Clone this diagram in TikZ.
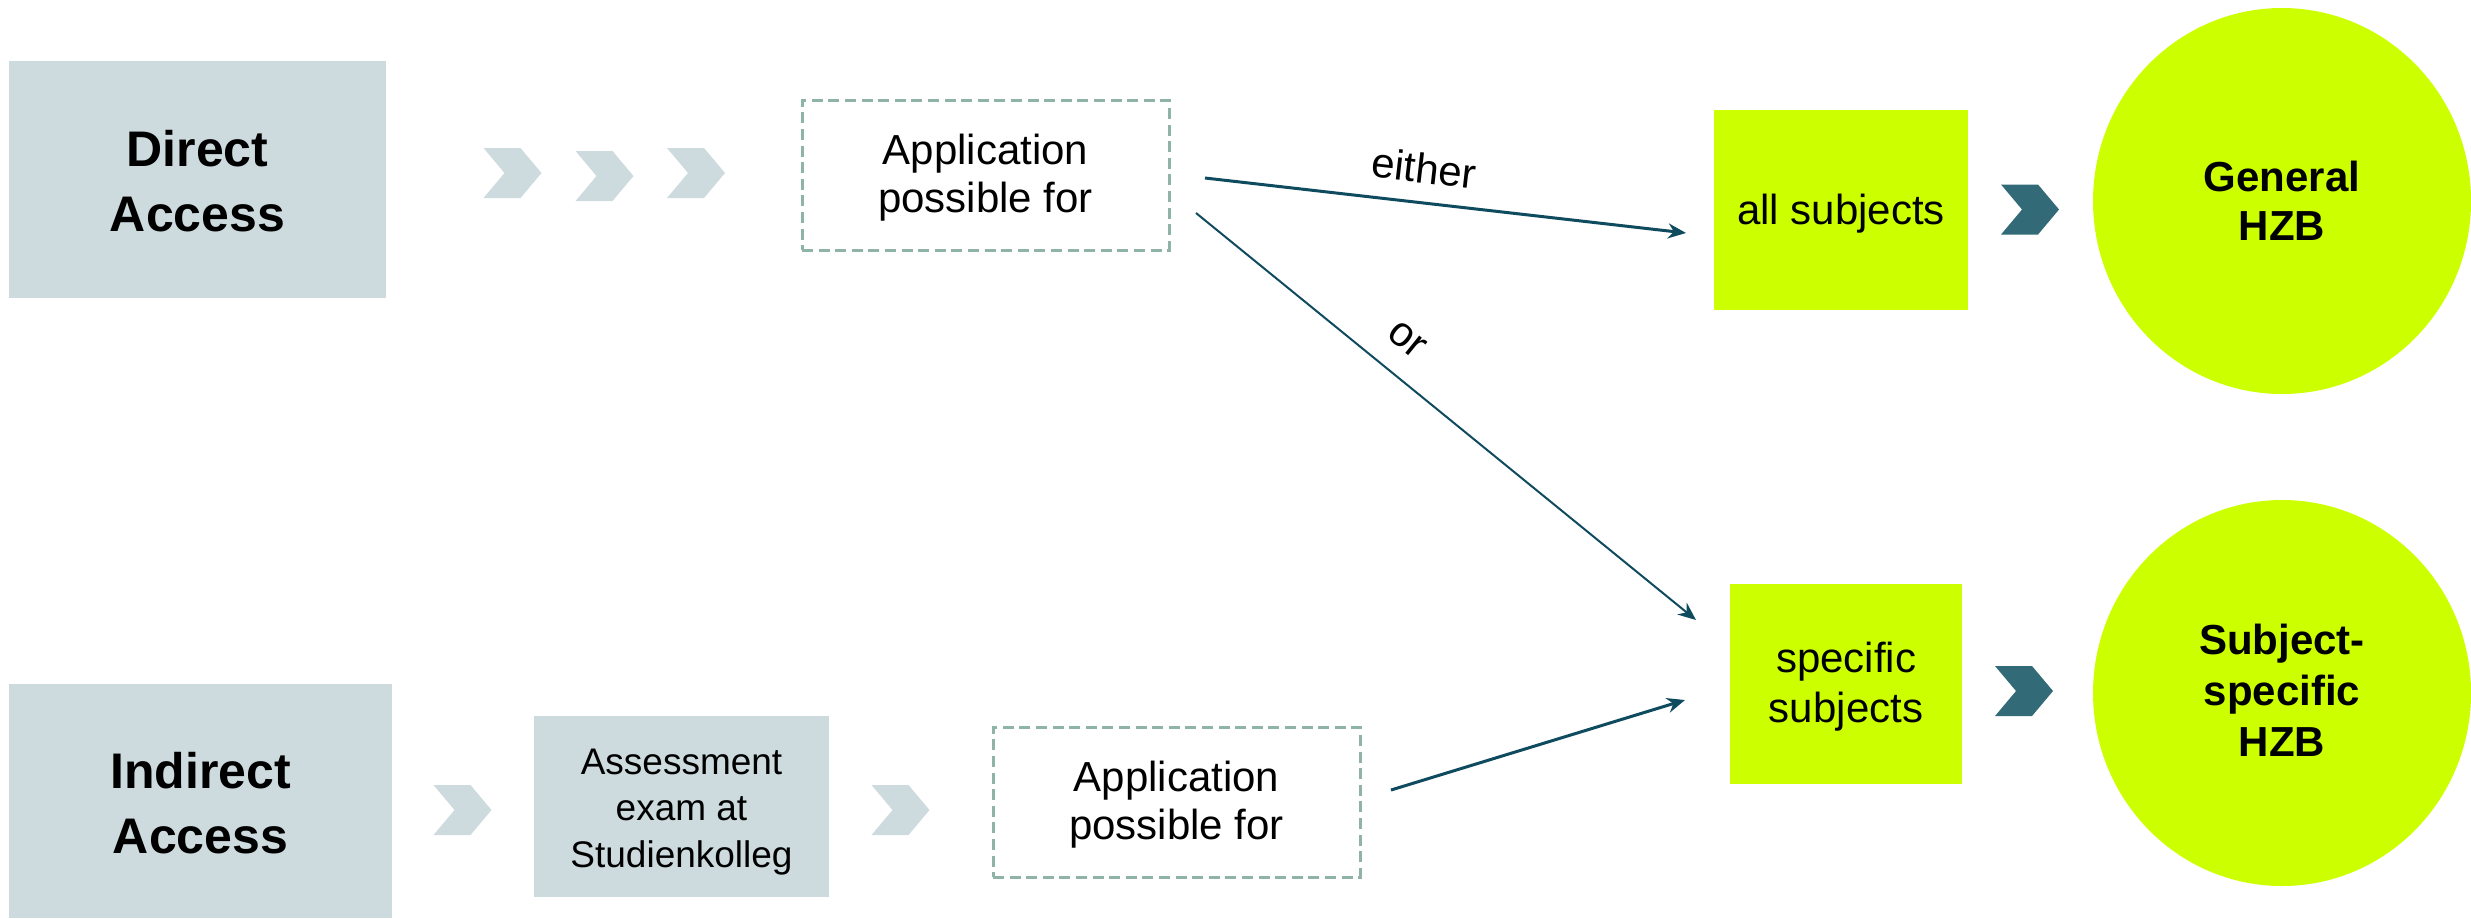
\documentclass[tikz,border=0pt]{standalone}
\usepackage{fontspec}
\setmainfont{Liberation Sans}
\usetikzlibrary{shapes.geometric,arrows.meta}
\definecolor{boxgrey}{RGB}{205,219,222}
\definecolor{chevlight}{RGB}{205,219,222}
\definecolor{dashgreen}{RGB}{143,179,165}
\definecolor{lime}{RGB}{204,255,0}
\definecolor{chevdark}{RGB}{51,106,119}
\definecolor{arrowc}{RGB}{15,75,94}
\newcommand{\tstrut}[1]{\rule{0pt}{#1}}
\newcommand{\bstrut}[1]{\rule[-#1]{0pt}{0pt}}
\begin{document}
\begin{tikzpicture}[x=0.5pt,y=-0.5pt,
  greybox/.style={fill=boxgrey, inner sep=0pt, align=center},
  bigtext/.style={font=\bfseries\fontsize{25pt}{32.5pt}\selectfont},
  dashbox/.style={draw=dashgreen, line width=1.5pt, dash pattern=on 5.5pt off 2.8pt, fill=white,
    minimum width=183.5pt, minimum height=75pt, inner sep=0pt, align=center,
    font=\fontsize{21pt}{24pt}\selectfont},
  limebox/.style={fill=lime, inner sep=0pt, align=center, font=\fontsize{21pt}{25pt}\selectfont},
  hzb/.style={ellipse, fill=lime, minimum width=189pt, minimum height=193pt, inner sep=0pt,
    align=center, font=\bfseries\fontsize{21pt}{24.5pt}\selectfont},
  conn/.style={draw=arrowc, line width=1.5pt, -{Stealth[length=9pt,width=7.5pt]}},
  lbl/.style={font=\fontsize{21pt}{24pt}\selectfont, inner sep=0pt},
  chev/.pic={\path[pic actions] (-29,-25) -- (8,-25) -- (29,0) -- (8,25) -- (-29,25) -- (-8,0) -- cycle;}
]
\useasboundingbox (0,0) rectangle (2471,918);
\begin{scope}
\clip (0,0) rectangle (2471,918);
% top row
\node[greybox, bigtext, minimum width=188.5pt, minimum height=118.5pt] (direct) at (197.5,179.5) {\tstrut{20pt}Direct\\Access};
\pic[fill=chevlight] (c1) at (512.5,173) {chev};
\pic[fill=chevlight] (c2) at (604.5,176) {chev};
\pic[fill=chevlight] (c3) at (696,173) {chev};
\node[dashbox] (app1) at (985.5,175) {\tstrut{18.3pt}Application\\possible for};
\node[limebox, minimum width=127pt, minimum height=100pt] (all) at (1841,210) {\tstrut{19.3pt}all subjects};
\pic[fill=chevdark] (d1) at (2030,209.5) {chev};
\node[hzb] (gen) at (2282,201) {General\\HZB};
% bottom row
\node[greybox, bigtext, minimum width=191.5pt, minimum height=117pt] (indirect) at (200.5,801) {\tstrut{20.3pt}Indirect\\Access};
\pic[fill=chevlight] (c4) at (462.5,810) {chev};
\node[greybox, minimum width=147.5pt, minimum height=90.5pt, font=\fontsize{18.5pt}{23.25pt}\selectfont] (assess) at (681.5,806.5) {\tstrut{18.2pt}Assessment\\exam at\\Studienkolleg};
\pic[fill=chevlight] (c5) at (900.5,810) {chev};
\node[dashbox] (app2) at (1176.5,802) {\tstrut{18.3pt}Application\\possible for};
\node[limebox, minimum width=116pt, minimum height=100pt] (spec) at (1846,684) {\tstrut{18.3pt}specific\\subjects};
\pic[fill=chevdark] (d2) at (2024,691) {chev};
\node[hzb, font=\bfseries\fontsize{21pt}{25.5pt}\selectfont] (subj) at (2282,693) {Subject-\\specific\\HZB\bstrut{2.4pt}};
\end{scope}
% connectors
\coordinate (e1s) at (1205,178);
\coordinate (e1e) at (1686,233);
\coordinate (o1s) at (1196,213);
\coordinate (o1e) at (1696,620);
\coordinate (l1s) at (1391,790);
\coordinate (l1e) at (1685,700);
\draw[conn] (e1s) -- (e1e);
\draw[conn, line width=1pt] (o1s) -- (o1e);
\draw[conn] (l1s) -- (l1e);
\node[lbl, rotate=-6.5] (either) at (1424,168) {either};
\node[lbl, rotate=-39] (or) at (1407,340) {or};
\end{tikzpicture}
\end{document}
